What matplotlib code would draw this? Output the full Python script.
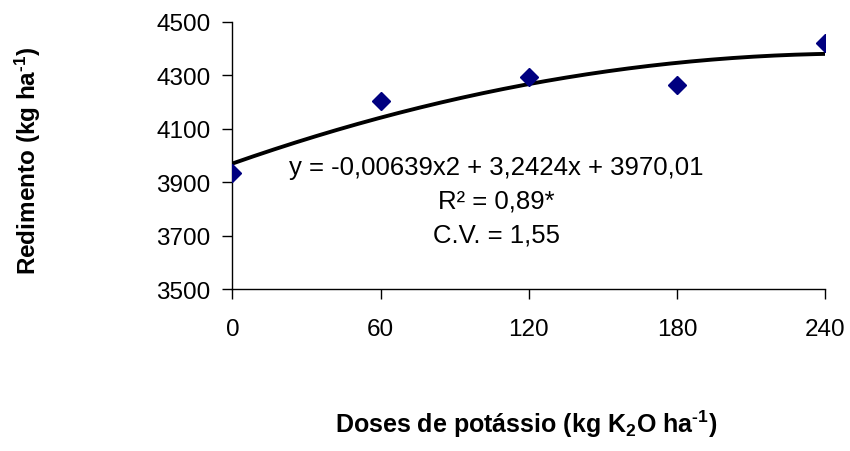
import numpy as np
import matplotlib
matplotlib.use("Agg")
import matplotlib.pyplot as plt

plt.rcParams['font.family'] = ['Liberation Sans', 'DejaVu Sans']
plt.rcParams['axes.unicode_minus'] = False
# only the axis labels use mathtext, and they are bold
plt.rcParams['mathtext.fontset'] = 'custom'
plt.rcParams['mathtext.rm'] = 'Liberation Sans:bold'
plt.rcParams['mathtext.bf'] = 'Liberation Sans:bold'
plt.rcParams['mathtext.it'] = 'Liberation Sans:bold'

# observed data
doses = [0, 60, 120, 180, 240]
rendimento = [3934, 4202, 4293, 4262, 4419]

# fitted quadratic (coefficients as printed on the chart)
coef_a = -0.00639
coef_b = 3.2424
coef_c = 3970.01

x_ticks = [0, 60, 120, 180, 240]
y_ticks = [3500, 3700, 3900, 4100, 4300, 4500]

fig = plt.figure(figsize=(8.5, 4.52), dpi=100)
ax = fig.add_axes([0.2735, 0.358, 0.6971, 0.5915])

xf = np.linspace(0, 240, 200)
yf = coef_a * xf**2 + coef_b * xf + coef_c
ax.plot(xf, yf, color='black', linewidth=2.8, zorder=2)
ax.plot(doses, rendimento, linestyle='none', marker='D', markersize=9,
        color='#000080', zorder=3)

ax.set_xlim(0, 240)
ax.set_ylim(3500, 4500)
ax.set_xticks(x_ticks)
ax.set_yticks(y_ticks)
ax.tick_params(axis='both', direction='out', length=7, width=1, labelsize=17.5,
               colors='black')
ax.tick_params(axis='x', pad=14)
ax.tick_params(axis='y', pad=9)
for s in ['top', 'right']:
    ax.spines[s].set_visible(False)
for s in ['left', 'bottom']:
    ax.spines[s].set_linewidth(1)
ax.spines['bottom'].set_zorder(1)

ax.text(0.446, 0.456, 'y = -0,00639x2 + 3,2424x + 3970,01', transform=ax.transAxes,
        ha='center', va='center', fontsize=18.5)
ax.text(0.446, 0.333, 'R² = 0,89*', transform=ax.transAxes,
        ha='center', va='center', fontsize=18.5)
ax.text(0.446, 0.206, 'C.V. = 1,55', transform=ax.transAxes,
        ha='center', va='center', fontsize=18.5)

fig.text(0.033, 0.644, 'Redimento (kg ha$^{\\text{-1}}$)', rotation=90,
         ha='center', va='center', fontsize=17.5, fontweight='bold')
fig.text(0.619, 0.062, 'Doses de potássio (kg K$_{\\text{2}}$O ha$^{\\text{-1}}$)',
         ha='center', va='center', fontsize=18, fontweight='bold')

fig.savefig('out.png', dpi=100)
